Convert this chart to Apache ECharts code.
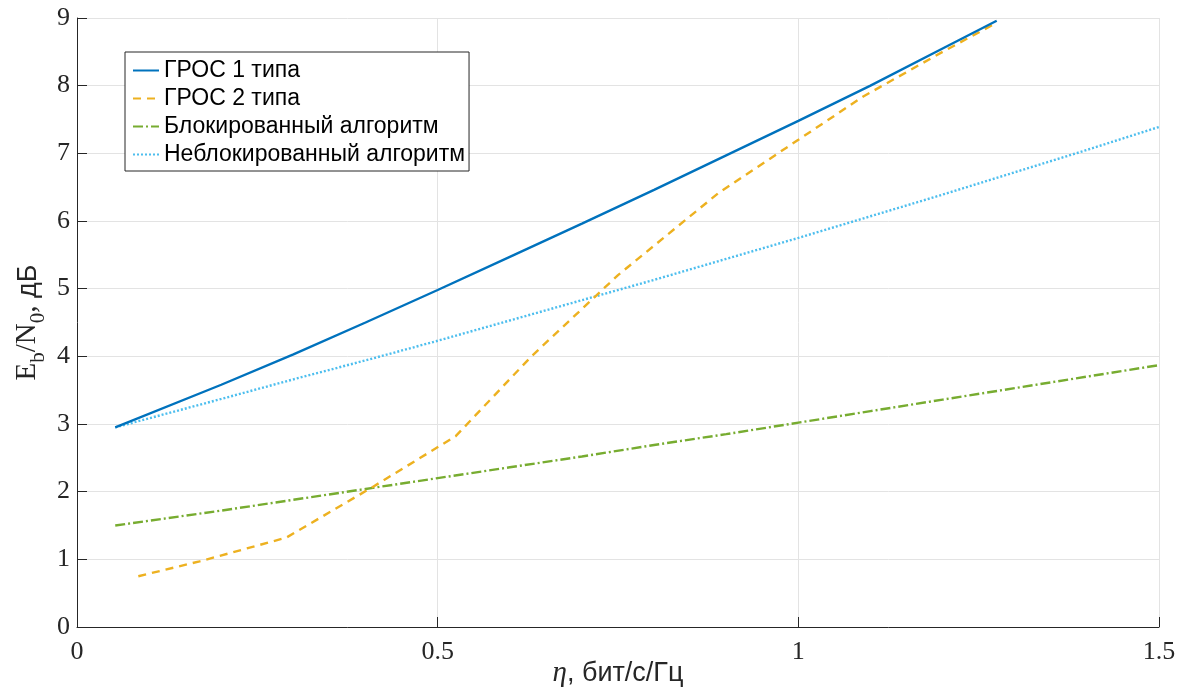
<!DOCTYPE html>
<html>
<head>
<meta charset="utf-8">
<script src="https://cdn.jsdelivr.net/npm/echarts@6/dist/echarts.min.js"></script>
<style>html,body{margin:0;padding:0;background:#fff}#c{width:1187px;height:696px}</style>
</head>
<body>
<div id="c"></div>
<script>
// Series names
var seriesNames = ['ГРОС 1 типа', 'ГРОС 2 типа', 'Блокированный алгоритм', 'Неблокированный алгоритм'];
// ГРОС 1 типа  [η, Eb/N0]
var gros1 = [[0.053,2.95],[0.2,3.58],[0.3,4.03],[0.4,4.5],[0.5,4.98],[0.6,5.47],[0.7,5.96],[0.8,6.46],[0.9,6.97],[1.0,7.48],[1.1,8.0],[1.2,8.55],[1.275,8.96]];
// ГРОС 2 типа
var gros2 = [[0.085,0.75],[0.17,0.97],[0.29,1.32],[0.41,2.07],[0.525,2.82],[0.63,4.0],[0.75,5.2],[0.89,6.42],[1.0,7.2],[1.09,7.84],[1.2,8.5],[1.275,8.93]];
// Блокированный алгоритм
var blocked = [[0.053,1.5],[0.2,1.72],[0.3,1.88],[0.4,2.04],[0.5,2.2],[0.6,2.36],[0.7,2.52],[0.8,2.69],[0.9,2.85],[1.0,3.02],[1.1,3.19],[1.2,3.36],[1.3,3.53],[1.4,3.7],[1.5,3.87]];
// Неблокированный алгоритм
var nonblocked = [[0.053,2.95],[0.2,3.37],[0.3,3.66],[0.4,3.94],[0.5,4.23],[0.6,4.53],[0.7,4.83],[0.8,5.13],[0.9,5.44],[1.0,5.75],[1.1,6.07],[1.2,6.39],[1.3,6.72],[1.4,7.05],[1.5,7.39]];
// Axes
var xTicks = {min: 0, max: 1.5, interval: 0.5};
var yTicks = {min: 0, max: 9, interval: 1};

var colors = ['#0072BD', '#EDB120', '#77AC30', '#4DBEEE'];
var dashes = ['solid', [8, 6], [10, 3, 2, 3], [2, 2]];
var datasets = [gros1, gros2, blocked, nonblocked];

var axisColor = '#262626';
var serif = 'Liberation Serif';
var sans = 'Liberation Sans';

var chart = echarts.init(document.getElementById('c'), null, {renderer: 'canvas'});
chart.setOption({
  animation: false,
  backgroundColor: '#fff',
  grid: {left: 77, top: 18, right: 28, bottom: 69, containLabel: false, outerBoundsMode: 'none'},
  legend: {
    orient: 'vertical',
    left: 125, top: 52,
    data: seriesNames,
    itemWidth: 26, itemHeight: 14, itemGap: 5,
    padding: [7, 4, 5, 7],
    backgroundColor: '#fff',
    borderColor: axisColor, borderWidth: 1, borderRadius: 0,
    itemStyle: {color: 'transparent', borderWidth: 0, opacity: 0},
    textStyle: {fontFamily: sans, fontSize: 23, color: '#000', lineHeight: 23}
  },
  xAxis: {
    type: 'value',
    min: xTicks.min, max: xTicks.max, interval: xTicks.interval,
    name: '{eta|η}{t|, бит/с/Гц}',
    nameLocation: 'middle', nameGap: 32, nameMoveOverlap: false,
    nameTextStyle: {
      rich: {
        eta: {fontFamily: serif, fontStyle: 'italic', fontSize: 29, color: axisColor},
        t: {fontFamily: sans, fontSize: 27, color: axisColor}
      }
    },
    axisLine: {show: true, onZero: false, lineStyle: {color: axisColor, width: 1}},
    axisTick: {show: true, inside: true, length: 10, lineStyle: {color: axisColor}},
    axisLabel: {fontFamily: serif, fontSize: 26, color: axisColor, margin: 12,
      formatter: function (v) { return String(v); }},
    splitLine: {show: true, lineStyle: {color: '#e3e3e3', width: 1}}
  },
  yAxis: {
    type: 'value',
    min: yTicks.min, max: yTicks.max, interval: yTicks.interval,
    name: '{m|E}{s|b}{m|/N}{s|0}{m|,}{t| дБ}',
    nameLocation: 'middle', nameGap: 28, nameRotate: 90, nameMoveOverlap: false,
    nameTextStyle: {
      rich: {
        m: {fontFamily: serif, fontSize: 29, color: axisColor, lineHeight: 36, verticalAlign: 'top'},
        s: {fontFamily: serif, fontSize: 21, color: axisColor, lineHeight: 36, verticalAlign: 'bottom'},
        t: {fontFamily: sans, fontSize: 27, color: axisColor, lineHeight: 36, verticalAlign: 'top', padding: [2,0,0,0]}
      }
    },
    axisLine: {show: true, onZero: false, lineStyle: {color: axisColor, width: 1}},
    axisTick: {show: true, inside: true, length: 10, lineStyle: {color: axisColor}},
    axisLabel: {fontFamily: serif, fontSize: 26, color: axisColor, margin: 7},
    splitLine: {show: true, lineStyle: {color: '#e3e3e3', width: 1}}
  },
  series: seriesNames.map(function (n, i) {
    return {
      name: n, type: 'line', data: datasets[i],
      symbol: 'none', showSymbol: false, smooth: false,
      color: colors[i],
      lineStyle: {color: colors[i], width: 2.4, type: dashes[i]},
      z: 10 - i
    };
  })
});
</script>
</body>
</html>
